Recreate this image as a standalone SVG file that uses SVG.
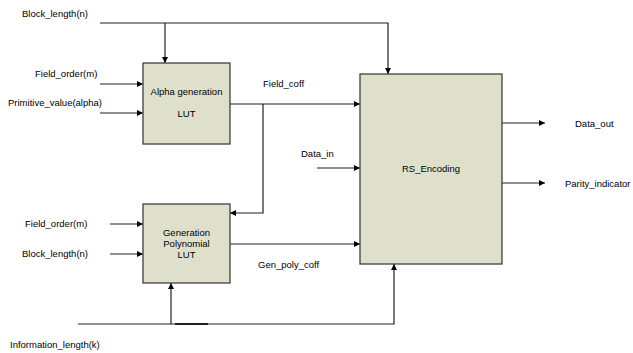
<svg xmlns="http://www.w3.org/2000/svg" width="633" height="353" viewBox="0 0 633 353">
<style>
.box{fill:#dfe0cb;stroke:#404040;stroke-width:1.3}
.ln{fill:none;stroke:#202020;stroke-width:1.2}
text{font-family:"Liberation Sans",Arial,sans-serif;font-size:9.5px;fill:#000}
.c{text-anchor:middle}
</style>
<defs>
<marker id="ah" viewBox="0 0 10 10" refX="10" refY="5" markerWidth="8" markerHeight="6" markerUnits="userSpaceOnUse" orient="auto">
<path d="M0,0 L10,5 L0,10 z" fill="#000"/>
</marker>
</defs>
<rect width="633" height="353" fill="#fff"/>
<g id="connectors">
<path class="ln" d="M100,23 H388 V74" marker-end="url(#ah)"/>
<path class="ln" d="M165,23 V63" marker-end="url(#ah)"/>
<path class="ln" d="M100,84 H143" marker-end="url(#ah)"/>
<path class="ln" d="M100,113 H143" marker-end="url(#ah)"/>
<path class="ln" d="M230,104 H360" marker-end="url(#ah)"/>
<path class="ln" d="M263,104 V213 H230" marker-end="url(#ah)"/>
<path class="ln" d="M110,224 H143" marker-end="url(#ah)"/>
<path class="ln" d="M110,254 H143" marker-end="url(#ah)"/>
<path class="ln" d="M230,244 H360" marker-end="url(#ah)"/>
<path class="ln" d="M317,168 H360" marker-end="url(#ah)"/>
<path class="ln" d="M78,324 H394 V264" marker-end="url(#ah)"/>
<path class="ln" d="M171,324 V283" marker-end="url(#ah)"/>
<path d="M175,324 H208" stroke="#202020" stroke-width="2"/>
<path class="ln" d="M502,123 H545" marker-end="url(#ah)"/>
<path class="ln" d="M502,183 H545" marker-end="url(#ah)"/>
</g>
<g id="alpha">
<rect class="box" x="143" y="63" width="87" height="81"/>
<text class="c" x="186.5" y="95">Alpha generation</text>
<text class="c" x="186.5" y="117">LUT</text>
</g>
<g id="genpoly">
<rect class="box" x="143" y="204" width="87" height="79"/>
<text class="c" x="186.5" y="236">Generation</text>
<text class="c" x="186.5" y="247">Polynomial</text>
<text class="c" x="186.5" y="258">LUT</text>
</g>
<g id="rs">
<rect class="box" x="360" y="74" width="142" height="190"/>
<text class="c" x="431" y="172">RS_Encoding</text>
</g>
<g id="labels">
<text x="22" y="17">Block_length(n)</text>
<text x="35" y="77">Field_order(m)</text>
<text x="8" y="106">Primitive_value(alpha)</text>
<text x="263" y="87">Field_coff</text>
<text x="301" y="157">Data_in</text>
<text x="575" y="127">Data_out</text>
<text x="565" y="187">Parity_indicator</text>
<text x="25" y="227">Field_order(m)</text>
<text x="22" y="257">Block_length(n)</text>
<text x="258" y="268">Gen_poly_coff</text>
<text x="10" y="348">Information_length(k)</text>
</g>
</svg>
